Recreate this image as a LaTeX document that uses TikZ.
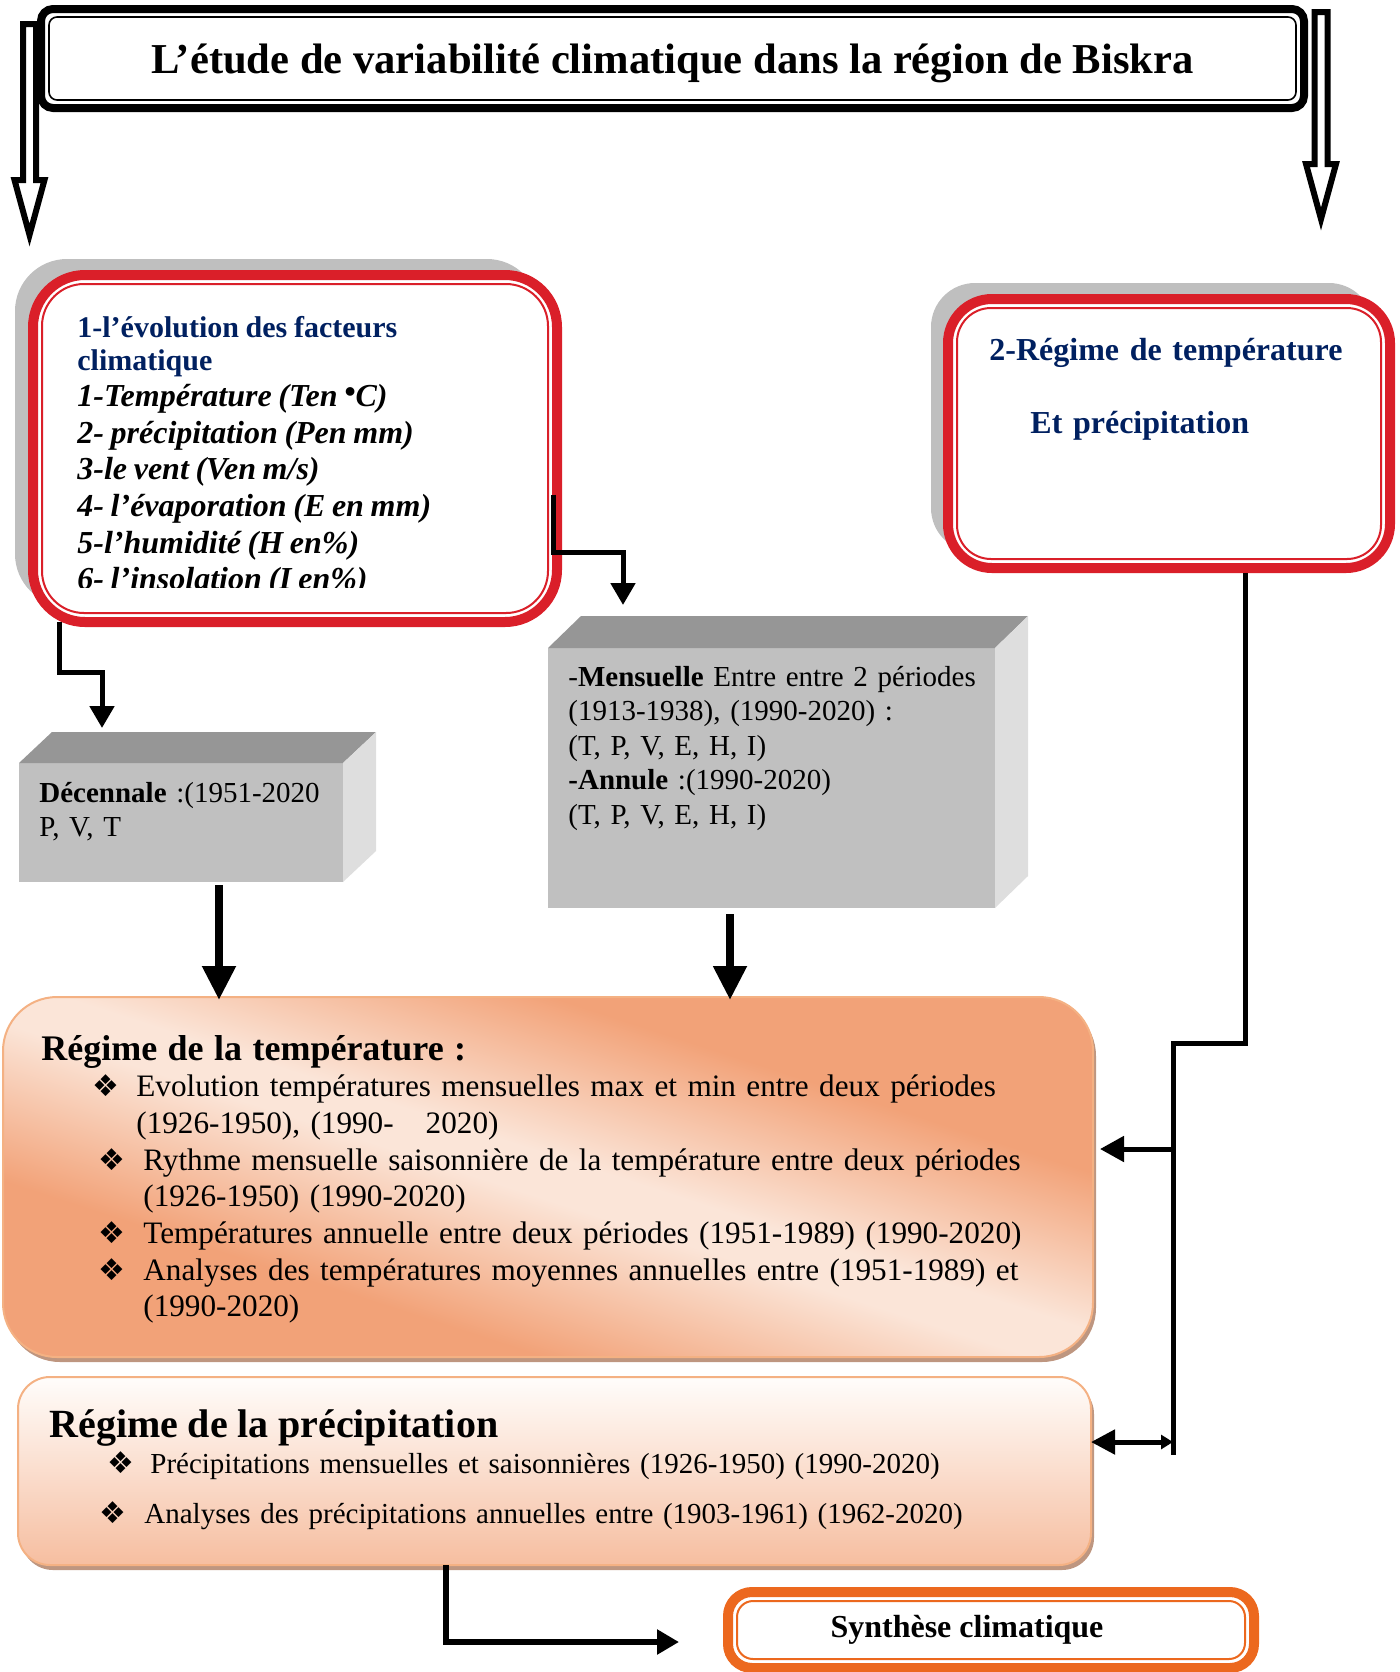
\documentclass[tikz,border=0pt]{standalone}
\usepackage{fontspec}
\setmainfont{Liberation Serif}
\newfontfamily\dingfont{DejaVu Sans}
\usetikzlibrary{%
  arrows.meta,%
  calc,%
  shadows%
}
\setlength{\parindent}{0pt}
\frenchspacing

\definecolor{boxred}{RGB}{218,31,41}
\definecolor{headblue}{RGB}{0,32,96}
\definecolor{shadowgray}{RGB}{191,191,191}
\definecolor{cubetop}{RGB}{150,150,150}
\definecolor{cubefront}{RGB}{192,192,192}
\definecolor{cubeside}{RGB}{222,222,222}
\definecolor{peachdark}{RGB}{242,162,120}
\definecolor{peachlight}{RGB}{251,229,216}
\definecolor{peachedge}{RGB}{244,177,131}
\definecolor{precitop}{RGB}{255,253,251}
\definecolor{precibottom}{RGB}{246,190,160}
\definecolor{shadowbrown}{RGB}{190,150,128}
\definecolor{synthorange}{RGB}{236,104,30}

\pgfdeclarehorizontalshading{peachdiag}{100bp}{color(0bp)=(peachdark);
  color(34bp)=(peachdark); color(48bp)=(peachlight); color(52bp)=(peachlight);
  color(66bp)=(peachdark); color(100bp)=(peachdark)}

\tikzset{
  banner/.style={draw=black, line width=4pt, rounded corners=6pt, fill=white,
    outer sep=0pt, font=\bfseries\fontsize{21.3}{21.3}\selectfont},
  redbox/.style={draw=boxred, line width=5pt, fill=white, outer sep=0pt,
    anchor=north west},
  cubeface/.style={fill=cubefront, outer sep=0pt, inner sep=0pt, anchor=north west},
  cubetext/.style={anchor=base west, align=left, inner sep=0pt, text width=260pt,
    font=\fontsize{14.5}{17.3}\selectfont},
  tempbox/.style={draw=peachedge, line width=1pt, shading=peachdiag, shading angle=72,
    outer sep=0pt, anchor=north west,
    general shadow={fill=shadowbrown, shadow xshift=1.5pt, shadow yshift=-2.5pt}},
  precbox/.style={draw=peachedge, line width=1pt, top color=precitop,
    bottom color=precibottom, outer sep=0pt, anchor=north west,
    general shadow={fill=shadowbrown, shadow xshift=1.5pt, shadow yshift=-2.5pt}},
  synthbox/.style={draw=synthorange, line width=5pt, rounded corners=12pt, fill=white,
    outer sep=0pt, anchor=north west, font=\bfseries\fontsize{16}{16}\selectfont},
  hollowarr/.style={draw=black, fill=white, line width=3pt, line join=miter},
  elbow/.style={line width=2.5pt, -{Triangle[length=11pt,width=12pt]}},
  thickarr/.style={line width=4pt, -{Triangle[length=17pt,width=16pt]}},
  link/.style={line width=2.5pt}
}

% thin second line inside a framed box
\newcommand{\innerframe}[3]{\draw[#3] ([shift={(#2,#2)}]#1.north west) rectangle
  ([shift={(-#2,-#2)}]#1.south east);}
% open downward arrow
\newcommand{\hollowarrow}[2]{%
  \draw[hollowarr] let \p1=(#1), \p2=(#2) in
    (\x1-3.25pt,\y1) -- (\x1-3.25pt,\y2+27.5pt) -- (\x1-7.5pt,\y2+27.5pt)
    -- (\x2,\y2) -- (\x1+7.5pt,\y2+27.5pt) -- (\x1+3.25pt,\y2+27.5pt)
    -- (\x1+3.25pt,\y1) -- cycle;}
% bullet item
\newcommand{\ditem}[3]{\par\hangindent=#2\hangafter=1\noindent
  \makebox[#2][l]{\hspace*{#1}{\dingfont\fontsize{15}{15}\selectfont ❖}}#3\par}

\begin{document}
\begin{tikzpicture}[x=0.5pt,y=-0.5pt]
  \useasboundingbox (0,0) rectangle (1400,1672);

  % title
  \node[banner, minimum width=631.5pt, minimum height=49.5pt, text depth=0pt]
    (title) at (672.5,58.5) {L’étude de variabilité climatique dans la région de Biskra};
  \innerframe{title}{8}{line width=0.8pt, rounded corners=4pt}
  \coordinate (lefttop) at ($(title.north west)+(-11.5,15)$);
  \coordinate (lefttip) at ($(title.north west)+(-11.5,226)$);
  \coordinate (righttop) at ($(title.north east)+(17,3)$);
  \coordinate (righttip) at ($(title.north east)+(17,210)$);
  \hollowarrow{lefttop}{lefttip}
  \hollowarrow{righttop}{righttip}

  % 1 - facteurs
  \node[redbox, rounded corners=26pt, minimum width=262pt, minimum height=173.5pt,
    general shadow={fill=shadowgray, shadow xshift=-9pt, shadow yshift=8pt}]
    (box1) at (33,275) {};
  \innerframe{box1}{9}{boxred, line width=1pt, rounded corners=21pt}
  \begin{scope}
    \clip (box1.north west) rectangle ($(box1.south east)+(0,-35)$);
    \node[anchor=base west, align=left, inner sep=0pt, text width=230pt]
      (box1txt) at (77,337) {%
      {\color{headblue}\bfseries\fontsize{15}{16.5}\selectfont
        1-l’évolution des facteurs\\climatique\par}
      {\bfseries\itshape\fontsize{16}{18.3}\selectfont
        1-Température (Ten \raisebox{0.12em}{•}C)\\2- précipitation (Pen mm)\\
        3-le vent (Ven m/s)\\4- l’évaporation (E en mm)\\5-l’humidité (H en\%)\\
        6- l’insolation (I en\%)\par}};
  \end{scope}

  % 2 - regime
  \node[redbox, rounded corners=22pt, minimum width=221pt, minimum height=134.5pt,
    general shadow={fill=shadowgray, shadow xshift=-8.5pt, shadow yshift=8pt}]
    (box2) at (948,299) {};
  \innerframe{box2}{9}{boxred, line width=1pt, rounded corners=17pt}
  \node[anchor=base west, align=left, inner sep=0pt, text width=220pt, text=headblue,
    font=\bfseries\fontsize{16}{18}\selectfont] (box2txt) at (989,360)
    {2-Régime de température\\[18.5pt]\hspace*{20.5pt}Et précipitation};

  % cubes
  \node[cubeface, minimum width=162pt, minimum height=59.5pt] (dec) at (19,763) {};
  \fill[cubetop] (dec.north west) -- ++(33,-31) -- ($(dec.north east)+(33,-31)$)
    -- (dec.north east) -- cycle;
  \fill[cubeside] (dec.north east) -- ++(33,-31) -- ($(dec.south east)+(33,-31)$)
    -- (dec.south east) -- cycle;
  \node[cubetext] (dectxt) at (39,802) {\textbf{Décennale} :(1951-2020\\P, V, T};

  \node[cubeface, minimum width=223.5pt, minimum height=130pt] (mens) at (548,648) {};
  \fill[cubetop] (mens.north west) -- ++(33,-32) -- ($(mens.north east)+(33,-32)$)
    -- (mens.north east) -- cycle;
  \fill[cubeside] (mens.north east) -- ++(33,-32) -- ($(mens.south east)+(33,-32)$)
    -- (mens.south east) -- cycle;
  \node[cubetext] (menstxt) at (568,686) {-\textbf{Mensuelle} Entre entre 2 périodes\\
    (1913-1938), (1990-2020) :\\(T, P, V, E, H, I)\\\textbf{-Annule} :(1990-2020)\\
    (T, P, V, E, H, I)};

  % regime de la temperature
  \node[tempbox, rounded corners=27pt, minimum width=545pt, minimum height=180pt]
    (temp) at (3,997) {};
  \node[anchor=base west, align=left, inner sep=0pt, text width=525pt,
    font=\fontsize{15.6}{18.35}\selectfont] (temptxt) at (41,1060) {%
    {\bfseries\fontsize{18}{18}\selectfont Régime de la température :\par}
    \ditem{25.5pt}{47.5pt}{Evolution températures mensuelles max et min entre deux
      périodes\newline (1926-1950), (1990-\hspace{16pt}2020)}
    \ditem{28.5pt}{51pt}{Rythme mensuelle saisonnière de la température entre deux
      périodes\newline (1926-1950) (1990-2020)}
    \ditem{28.5pt}{51pt}{Températures annuelle entre deux périodes (1951-1989) (1990-2020)}
    \ditem{28.5pt}{51pt}{Analyses des températures moyennes annuelles entre (1951-1989)
      et\newline (1990-2020)}};

  % regime de la precipitation
  \node[precbox, rounded corners=16pt, minimum width=536.5pt, minimum height=94pt]
    (precip) at (18,1377) {};
  \node[anchor=base west, align=left, inner sep=0pt, text width=525pt,
    font=\fontsize{14.5}{18}\selectfont] (preciptxt) at (49,1437) {%
    {\bfseries\fontsize{20}{20}\selectfont Régime de la précipitation\par}
    \ditem{29pt}{50.5pt}{Précipitations mensuelles et saisonnières (1926-1950) (1990-2020)}
    \vspace{7pt}
    \ditem{25pt}{47.5pt}{Analyses des précipitations annuelles entre (1903-1961) (1962-2020)}};

  % synthese
  \node[synthbox, minimum width=263pt, minimum height=38pt] (synth) at (728,1592)
    {Synthèse climatique\hspace*{24pt}};
  \innerframe{synth}{9}{synthorange, line width=1pt, rounded corners=8pt}

  % connectors
  \draw[elbow] ($(box1.east)+(-4,46)$) -- ++(0,58) -| ($(mens.north west)+(75,-43)$);
  \draw[elbow] ($(box1.south west)+(26,0)$) -- ++(0,50) -| ($(dec.north west)+(83,-35)$);
  \draw[thickarr] ($(dec.south west)+(200,3)$) -- ($(temp.north west)+(216,3)$);
  \draw[thickarr] ($(mens.south west)+(182,6)$) -- ($(temp.north west)+(727,3)$);

  \coordinate (trunktop) at ($(box2.south)+(4,475)$);
  \coordinate (trunkend) at ($(trunktop)+(0,412)$);
  \draw[link] ($(box2.south)+(76,5)$) |- (trunktop) -- (trunkend);
  \coordinate (tempin) at ($(temp.east)+(7,-28)$);
  \draw[link, -{Triangle[length=12pt,width=12.5pt]}] (trunktop |- tempin) -- (tempin);
  \coordinate (precin) at ($(precip.east)+(0,-29)$);
  \draw[link, {Triangle[length=12pt,width=12pt]}-{Triangle[length=6pt,width=7pt]}]
    (precin) -- (trunktop |- precin);

  \coordinate (synthin) at ($(synth.west)+(-49,12)$);
  \draw[elbow, line width=3pt] ($(precip.south west)+(428,0)$) |- (synthin);
\end{tikzpicture}
\end{document}
